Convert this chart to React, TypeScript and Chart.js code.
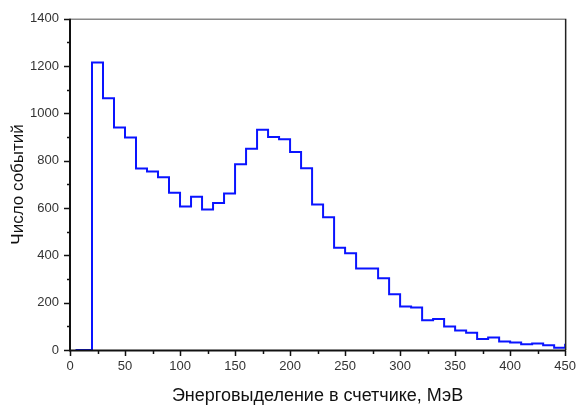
import { useEffect, useRef } from 'react';
import { Chart, registerables } from 'chart.js';

Chart.register(...registerables);

// Histogram: left edge of each bin (MeV) and number of events in that bin
const binEdges = [
  5, 20, 30, 40, 50, 60, 70, 80, 90, 100, 110, 120, 130, 140, 150, 160, 170, 180, 190, 200,
  210, 220, 230, 240, 250, 260, 270, 280, 290, 300, 310, 320, 330, 340, 350, 360, 370, 380,
  390, 400, 410, 420, 430, 440, 450,
];
const counts = [
  0, 1215, 1064, 941, 898, 767, 755, 730, 665, 607, 648, 594, 621, 662, 785, 851, 931, 900, 891, 837,
  768, 615, 561, 432, 409, 345, 345, 303, 236, 184, 180, 126, 131, 99, 82, 73, 46, 53,
  36, 32, 24, 28, 20, 10, 26,
];

const xMajorTicks = [0, 50, 100, 150, 200, 250, 300, 350, 400, 450];
const xMinorTicks = [25, 75, 125, 175, 225, 275, 325, 375, 425];
const yMajorTicks = [0, 200, 400, 600, 800, 1000, 1200, 1400];
const yMinorTicks = [100, 300, 500, 700, 900, 1100, 1300];

const xTitle = 'Энерговыделение в счетчике, МэВ';
const yTitle = 'Число событий';

const FONT = '"Liberation Sans", Arial, sans-serif';

const framePlugin = {
  id: 'frame',
  afterDraw(chart: any) {
    const { ctx, chartArea, scales } = chart;
    const x = scales.x;
    const y = scales.y;
    const { left, right, top, bottom } = chartArea;
    ctx.save();
    // top border (grey)
    ctx.strokeStyle = '#8a8a8a';
    ctx.lineWidth = 1.5;
    ctx.beginPath();
    ctx.moveTo(left, top + 0.5);
    ctx.lineTo(right, top + 0.5);
    ctx.stroke();
    // right border
    ctx.strokeStyle = '#222';
    ctx.lineWidth = 1.5;
    ctx.beginPath();
    ctx.moveTo(right + 0.5, top);
    ctx.lineTo(right + 0.5, bottom);
    ctx.stroke();
    // left and bottom axes
    ctx.strokeStyle = '#111';
    ctx.lineWidth = 2;
    ctx.beginPath();
    ctx.moveTo(left, top);
    ctx.lineTo(left, bottom + 1.5);
    ctx.moveTo(left - 1, bottom + 0.5);
    ctx.lineTo(right + 1, bottom + 0.5);
    ctx.stroke();
    // ticks
    ctx.lineWidth = 1.5;
    ctx.beginPath();
    yMajorTicks.forEach((v) => {
      const py = Math.round(y.getPixelForValue(v)) + 0.5;
      ctx.moveTo(left - 6, py);
      ctx.lineTo(left, py);
    });
    yMinorTicks.forEach((v) => {
      const py = Math.round(y.getPixelForValue(v)) + 0.5;
      ctx.moveTo(left - 3, py);
      ctx.lineTo(left, py);
    });
    xMajorTicks.forEach((v) => {
      const px = Math.round(x.getPixelForValue(v)) + 0.5;
      ctx.moveTo(px, bottom + 1);
      ctx.lineTo(px, bottom + 6);
    });
    xMinorTicks.forEach((v) => {
      const px = Math.round(x.getPixelForValue(v)) + 0.5;
      ctx.moveTo(px, bottom + 1);
      ctx.lineTo(px, bottom + 4);
    });
    ctx.stroke();
    ctx.restore();
  },
};

export default function App() {
  const canvasRef = useRef<HTMLCanvasElement | null>(null);

  useEffect(() => {
    const canvas = canvasRef.current;
    if (!canvas) return;
    const points = binEdges.map((e, i) => ({ x: e, y: counts[i] }));
    const chart = new Chart(canvas, {
      type: 'line',
      data: {
        datasets: [
          {
            data: points,
            stepped: 'before',
            borderColor: '#0a14ff',
            borderWidth: 2,
            pointRadius: 0,
            fill: false,
          },
        ],
      },
      options: {
        responsive: false,
        animation: false,
        devicePixelRatio: 1,
        layout: { padding: { top: 15, right: 10, left: 0, bottom: 0 } },
        plugins: {
          legend: { display: false },
          tooltip: { enabled: false },
        },
        scales: {
          x: {
            type: 'linear',
            min: 0,
            max: 450,
            afterBuildTicks: (scale: any) => {
              scale.ticks = xMajorTicks.map((v) => ({ value: v }));
            },
            afterFit: (scale: any) => {
              scale.height = 57;
            },
            grid: { display: false, drawTicks: false },
            border: { display: false },
            ticks: {
              padding: 9,
              maxRotation: 0,
              autoSkip: false,
              color: '#333',
              font: { family: FONT, size: 13 },
              callback: (v: any) => String(v),
            },
            title: {
              display: true,
              text: xTitle,
              color: '#111',
              padding: { top: 0, bottom: 0 },
              font: { family: FONT, size: 18 },
            },
          },
          y: {
            type: 'linear',
            min: 0,
            max: 1400,
            afterBuildTicks: (scale: any) => {
              scale.ticks = yMajorTicks.map((v) => ({ value: v }));
            },
            afterFit: (scale: any) => {
              scale.width = 70;
            },
            grid: { display: false, drawTicks: false },
            border: { display: false },
            ticks: {
              padding: 11,
              autoSkip: false,
              color: '#333',
              font: { family: FONT, size: 13 },
              callback: (v: any) => String(v),
            },
            title: {
              display: true,
              text: yTitle,
              color: '#111',
              padding: { top: 8, bottom: 0 },
              font: { family: FONT, size: 17 },
            },
          },
        },
      },
      plugins: [framePlugin],
    });
    return () => chart.destroy();
  }, []);

  return (
    <div style={{ position: 'fixed', left: 0, top: 0, width: 585, height: 407, background: '#fff' }}>
      <canvas ref={canvasRef} width={585} height={407} style={{ display: 'block', width: 585, height: 407 }} />
    </div>
  );
}
